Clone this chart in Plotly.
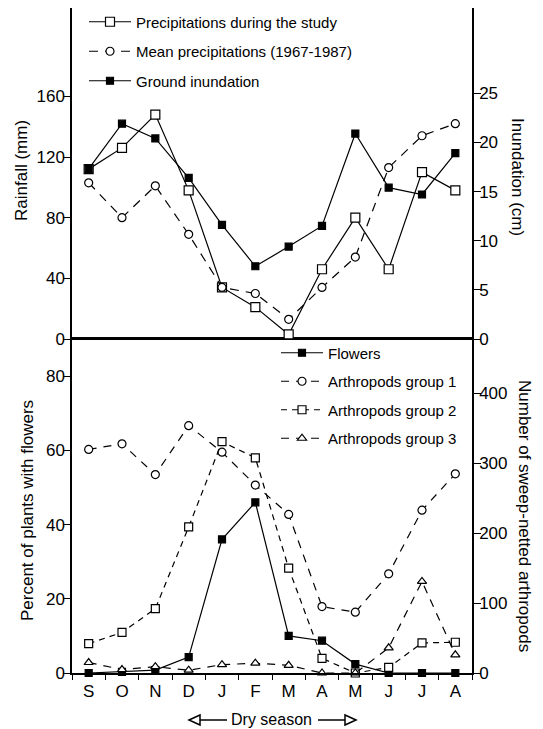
import plotly.graph_objects as go

months = ["S", "O", "N", "D", "J", "F", "M", "A", "M", "J", "J", "A"]
xpos = list(range(len(months)))

# Top panel
precip_study = [112, 126, 148, 98, 34, 21, 3, 46, 80, 46, 110, 98]        # mm
precip_mean = [103, 80, 101, 69, 34, 30, 13, 34, 54, 113, 134, 142]        # mm
inundation = [17.3, 21.9, 20.4, 16.4, 11.6, 7.4, 9.4, 11.5, 20.9, 15.4, 14.7, 18.9]  # cm

# Bottom panel
flowers = [0, 0.3, 0.8, 4.3, 36, 46, 10, 8.7, 2.4, 0, 0, 0]               # percent
arthro1 = [320, 328, 284, 354, 316, 269, 227, 95, 87, 142, 233, 285]
arthro2 = [42, 58, 92, 209, 331, 308, 150, 21, 0, 8, 43, 44]
arthro3 = [15, 5, 9, 4, 12, 14, 11, 0, 0, 36, 131, 26]

FONT = "Liberation Sans, Arial, Helvetica, sans-serif"
OFF = 8                      # page body margin of the HTML page
W, H = 543 - OFF, 729 - OFF
ML, MR, MT, MB = 64, 71, 0, 56
PW, PH = W - ML - MR, H - MT - MB
MID = 339 - OFF              # panel boundary (figure px)
dom_split = (H - MB - MID) / PH


def pp(px, py):
    """window pixel -> paper coords"""
    return (px - OFF - ML) / PW, (H - MB - (py - OFF)) / PH


fig = go.Figure()
LW = 1.2


def add(y, name, xa, ya, symbol, size, fill, dash, legend, group):
    fig.add_trace(go.Scatter(
        x=xpos, y=y, name=name, mode="lines+markers", xaxis=xa, yaxis=ya,
        line=dict(color="black", width=LW, dash=dash),
        marker=dict(symbol=symbol, size=size, color=fill,
                    line=dict(color="black", width=1.2)),
        legend=legend, legendgroup=group, cliponaxis=False))


add(precip_study, "Precipitations during the study", "x2", "y3", "square", 9, "white", "solid", "legend", "a")
add(precip_mean, "Mean precipitations (1967-1987)", "x2", "y3", "circle", 8, "white", "9px,7px", "legend", "b")
add(inundation, "Ground inundation", "x2", "y4", "square", 7, "black", "solid", "legend", "c")

add(flowers, "Flowers", "x", "y", "square", 7, "black", "solid", "legend2", "d")
add(arthro1, "Arthropods group 1", "x", "y2", "circle", 8, "white", "8px,7px", "legend2", "e")
add(arthro2, "Arthropods group 2", "x", "y2", "square", 8, "white", "6px,5px", "legend2", "f")
add(arthro3, "Arthropods group 3", "x", "y2", "triangle-up", 8, "white", "8px,7px", "legend2", "g")

# invisible trace to carry the month-label axis
fig.add_trace(go.Scatter(x=xpos, y=[None] * len(xpos), xaxis="x3", yaxis="y",
                         showlegend=False, hoverinfo="skip", mode="lines"))

tickfont = dict(family=FONT, size=17, color="black")
common_y = dict(showline=True, linecolor="black", linewidth=1.5, ticks="outside",
                ticklen=7, tickwidth=1.2, tickcolor="black", showgrid=False,
                zeroline=False, tickfont=tickfont, automargin=False,
                ticklabelstandoff=-5)
xr = [-0.5, 11.5]
top_px = MID  # height of top panel in px
rain_max = top_px / 1.5167
inund_max = top_px / 9.83

fig.update_layout(
    width=W, height=H, margin=dict(l=ML, r=MR, t=MT, b=MB, autoexpand=False),
    paper_bgcolor="white", plot_bgcolor="white",
    font=dict(family=FONT, size=15, color="black"),
    xaxis=dict(domain=[0, 1], anchor="y", range=xr, showline=True, linecolor="black",
               linewidth=1.5, mirror=True, ticks="outside", ticklen=5, tickwidth=1.2,
               tickcolor="black", tickmode="array",
               tickvals=[i - 0.5 for i in range(13)], showticklabels=False,
               showgrid=False, zeroline=False, automargin=False),
    xaxis3=dict(overlaying="x", anchor="y", side="bottom", range=xr, tickmode="array",
                tickvals=xpos, ticktext=months, ticks="outside", ticklen=3,
                tickcolor="rgba(0,0,0,0)", showgrid=False, zeroline=False,
                showline=False, tickfont=tickfont, automargin=False),
    xaxis2=dict(domain=[0, 1], anchor="y3", range=xr, showline=True, linecolor="black",
                linewidth=1.2, mirror=True, ticks="", showticklabels=False,
                showgrid=False, zeroline=False, automargin=False),
    yaxis=dict(domain=[0, dom_split], anchor="x", range=[0, 90],
               tickvals=[0, 20, 40, 60, 80], side="left", **common_y),
    yaxis2=dict(overlaying="y", anchor="x", side="right", range=[0, 478],
                tickvals=[0, 100, 200, 300, 400], **common_y),
    yaxis3=dict(domain=[dom_split, 1], anchor="x2", range=[0, rain_max],
                tickvals=[0, 40, 80, 120, 160], side="left", **common_y),
    yaxis4=dict(overlaying="y3", anchor="x2", side="right", range=[0, inund_max],
                tickvals=[0, 5, 10, 15, 20, 25], **common_y),
    legend=dict(x=pp(84, 0)[0], y=pp(0, 5.5)[1], xanchor="left", yanchor="top",
                bgcolor="rgba(0,0,0,0)", font=dict(family=FONT, size=15),
                traceorder="grouped", tracegroupgap=7, itemwidth=42),
    legend2=dict(x=pp(276, 0)[0], y=pp(0, 336.5)[1], xanchor="left", yanchor="top",
                 bgcolor="rgba(0,0,0,0)", font=dict(family=FONT, size=15),
                 traceorder="grouped", tracegroupgap=6, itemwidth=42),
)

ann = []
for text, (px, py), ang in [
    ("Rainfall (mm)", (22, 171), -90),
    ("Inundation (cm)", (518, 177), 90),
    ("Percent of plants with flowers", (27, 511), -90),
    ("Number of sweep-netted arthropods", (525, 516), 90),
]:
    x, y = pp(px, py)
    ann.append(dict(text=text, x=x, y=y, xref="paper", yref="paper", showarrow=False,
                    textangle=ang, font=dict(family=FONT, size=17, color="black"),
                    xanchor="center", yanchor="middle"))
x, y = pp(271, 719)
ann.append(dict(text="Dry season", x=x, y=y, xref="paper", yref="paper", showarrow=False,
                font=dict(family=FONT, size=16, color="black"),
                xanchor="center", yanchor="middle"))
fig.update_layout(annotations=ann)

# Dry season arrows (decoration)
shapes = []
ya = 720
for (x0, x1) in [(200, 227), (318, 345)]:
    a, b = pp(x0, ya), pp(x1, ya)
    shapes.append(dict(type="line", xref="paper", yref="paper", x0=a[0], y0=a[1],
                       x1=b[0], y1=b[1], line=dict(color="black", width=1.5)))


def tri(tip, base, half):
    t = pp(tip, ya)
    b1 = pp(base, ya - half)
    b2 = pp(base, ya + half)
    return f"M {t[0]},{t[1]} L {b1[0]},{b1[1]} L {b2[0]},{b2[1]} Z"


for tip, base in [(189, 200), (356, 345)]:
    shapes.append(dict(type="path", xref="paper", yref="paper", path=tri(tip, base, 5),
                       fillcolor="white", line=dict(color="black", width=1.5)))
fig.update_layout(shapes=shapes)

fig.write_html("out.html")
